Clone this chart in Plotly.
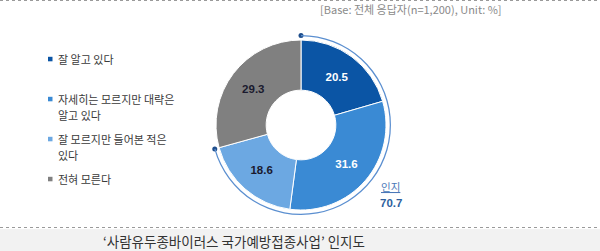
import plotly.graph_objects as go

# ---- data ----
categories = ["잘 알고 있다", "자세히는 모르지만 대략은\n알고 있다", "잘 모르지만 들어본 적은\n있다", "전혀 모른다"]
values = [20.5, 31.6, 18.6, 29.3]
recognized_label = "인지"
recognized_value = 70.7
title_text = "‘사람유두종바이러스 국가예방접종사업’ 인지도"
base_text = "[Base: 전체 응답자(n=1,200), Unit: %]"

# ---- style ----
W, H = 600, 251
colors = ["#0B55A5", "#3A8AD4", "#6CA8E2", "#808080"]
text_colors = ["#FFFFFF", "#FFFFFF", "#1A1A2E", "#1A1A2E"]
KR = "Noto Sans CJK KR"
NUM = "Liberation Sans"

def px(x):
    return x / W

def py(y):
    return 1 - y / H

cx, cy = 301, 125
R = 85
R_ARC = 90

fig = go.Figure()

fig.add_trace(go.Pie(
    values=values,
    labels=[c.replace("\n", " ") for c in categories],
    sort=False,
    direction="clockwise",
    rotation=0,
    hole=0.41,
    marker=dict(colors=colors, line=dict(color="white", width=1)),
    texttemplate="<b>%{value:.1f}</b>",
    textposition="inside",
    insidetextorientation="horizontal",
    textfont=dict(family=NUM, size=11.5, color=text_colors),
    domain=dict(x=[px(cx - R), px(cx + R)], y=[py(cy + R), py(cy - R)]),
    hoverinfo="skip",
    showlegend=False,
))

# recognition arc as a thin ring
fig.add_trace(go.Pie(
    values=[recognized_value, 100 - recognized_value],
    sort=False,
    direction="clockwise",
    rotation=0,
    hole=0.986,
    marker=dict(colors=["#5B8FD0", "rgba(0,0,0,0)"], line=dict(width=0)),
    textinfo="none",
    domain=dict(x=[px(cx - R_ARC), px(cx + R_ARC)], y=[py(cy + R_ARC), py(cy - R_ARC)]),
    hoverinfo="skip",
    showlegend=False,
))

# dots at the arc ends
fig.add_trace(go.Scatterpolar(
    r=[1, 1],
    theta=[0, recognized_value / 100 * 360],
    mode="markers",
    marker=dict(color="#1F4E8C", size=5),
    cliponaxis=False,
    hoverinfo="skip",
    showlegend=False,
))

fig.update_layout(
    width=W, height=H,
    margin=dict(l=0, r=0, t=0, b=0),
    paper_bgcolor="white",
    plot_bgcolor="white",
    polar=dict(
        domain=dict(x=[px(cx - R_ARC + 0.5), px(cx + R_ARC - 0.5)], y=[py(cy + R_ARC - 0.5), py(cy - R_ARC + 0.5)]),
        bgcolor="rgba(0,0,0,0)",
        radialaxis=dict(visible=False, range=[0, 1]),
        angularaxis=dict(visible=False, direction="clockwise", rotation=90),
    ),
)

shapes = [
    dict(type="line", xref="paper", yref="paper", x0=0, x1=1, y0=py(0.5), y1=py(0.5),
         line=dict(color="#9A9A9A", width=1, dash="dot")),
    dict(type="rect", xref="paper", yref="paper", x0=0, x1=1, y0=0, y1=py(229),
         fillcolor="#F2F2F2", line=dict(width=0), layer="below"),
    dict(type="line", xref="paper", yref="paper", x0=0, x1=1, y0=py(227.5), y1=py(227.5),
         line=dict(color="#9A9A9A", width=1, dash="dot")),
]

annotations = []
# legend
legend_y = [59, 99, 139, 179]
line_gap = 16
for i, (cat, col) in enumerate(zip(categories, colors)):
    shapes.append(dict(type="rect", xref="paper", yref="paper",
                       x0=px(48), x1=px(52.5), y0=py(legend_y[i] + 2.3), y1=py(legend_y[i] - 2.2),
                       fillcolor=col, line=dict(width=0)))
    for j, line in enumerate(cat.split("\n")):
        annotations.append(dict(
            x=px(56), y=py(legend_y[i] + j * line_gap), xref="paper", yref="paper",
            text=line, showarrow=False, xanchor="left", yanchor="middle",
            font=dict(family=KR, size=11, color="#3A3A3A"),
        ))

annotations += [
    dict(x=px(504), y=py(9), xref="paper", yref="paper", text=base_text, showarrow=False,
         xanchor="right", yanchor="middle", font=dict(family=KR, size=11, color="#8A8A8A")),
    dict(x=px(391), y=py(186), xref="paper", yref="paper", text=f"<u>{recognized_label}</u>",
         showarrow=False, xanchor="center", yanchor="middle",
         font=dict(family=KR, size=10.5, color="#4A78B8")),
    dict(x=px(391), y=py(203), xref="paper", yref="paper", text=f"<b>{recognized_value}</b>",
         showarrow=False, xanchor="center", yanchor="middle",
         font=dict(family=NUM, size=11.5, color="#2E5F9E")),
    dict(x=px(234), y=py(241), xref="paper", yref="paper", text=title_text, showarrow=False,
         xanchor="center", yanchor="middle", font=dict(family=KR, size=13.5, color="#333333")),
]

fig.update_layout(shapes=shapes, annotations=annotations)
fig.write_html("out.html")
